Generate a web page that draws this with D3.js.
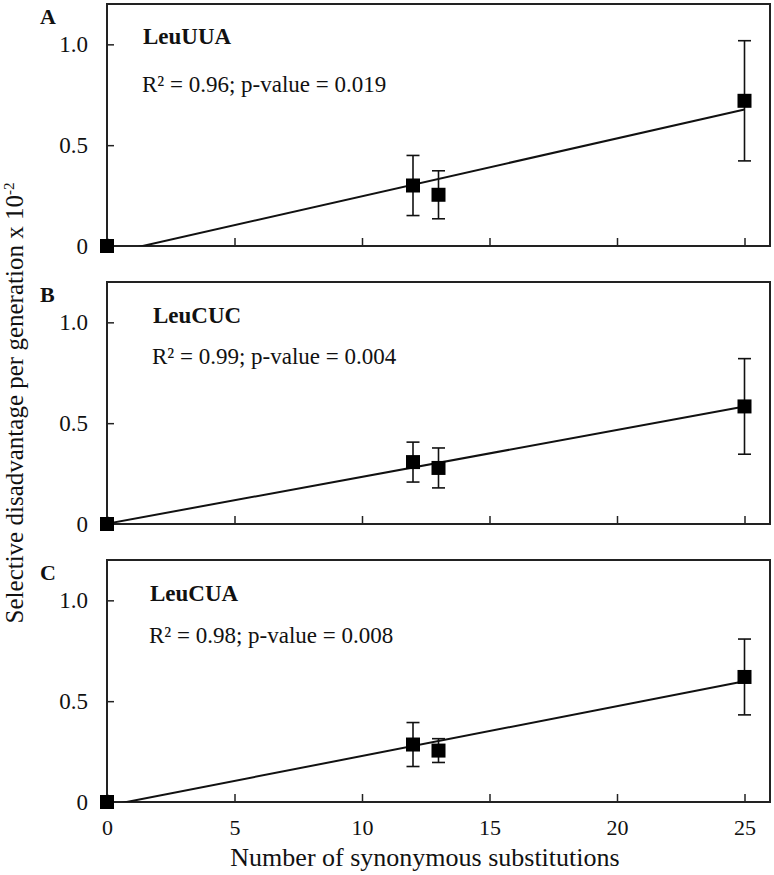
<!DOCTYPE html>
<html>
<head>
<meta charset="utf-8">
<script src="https://cdn.jsdelivr.net/npm/d3@7"></script>
<style>
  html, body { margin: 0; padding: 0; background: #fff; }
  svg { display: block; font-family: "Liberation Serif", "Times New Roman", serif; }
</style>
</head>
<body>
<svg id="chart" width="774" height="875"></svg>
<script>
// ---- data ----
const xValues = [0, 12, 13, 25];
const panelLetters = ["A", "B", "C"];
const tRNANames = ["LeuUUA", "LeuCUC", "LeuCUA"];
const statTexts = ["R\u00B2 = 0.96; p-value = 0.019", "R\u00B2 = 0.99; p-value = 0.004", "R\u00B2 = 0.98; p-value = 0.008"];
const meanA = [0, 0.30, 0.254, 0.72];
const errA  = [0, 0.149, 0.119, 0.298];
const meanB = [0, 0.307, 0.278, 0.583];
const errB  = [0, 0.099, 0.099, 0.237];
const meanC = [0, 0.285, 0.255, 0.62];
const errC  = [0, 0.109, 0.059, 0.188];
const xTicks = [0, 5, 10, 15, 20, 25];
const yTicks = [0, 0.5, 1.0];
const yTickLabels = ["0", "0.5", "1.0"];
const xTitle = "Number of synonymous substitutions";
const yTitle = "Selective disadvantage per generation x 10";
const yTitleSup = "-2";

const means = [meanA, meanB, meanC];
const errs = [errA, errB, errC];

// ---- layout ----
const svg = d3.select("#chart");
const left = 107, right = 770;
const panelTops = [4, 282, 560];
const panelH = 242;
const nameOffsets = [[36, 40], [46, 41], [43, 41]];
const statOffsets = [[35, 88], [45, 82], [42, 83]];

const x = d3.scaleLinear().domain([0, 26]).range([left, right]);

function fit(xs, ys) {
  const mx = d3.mean(xs), my = d3.mean(ys);
  let sxy = 0, sxx = 0;
  xs.forEach((v, i) => { sxy += (v - mx) * (ys[i] - my); sxx += (v - mx) * (v - mx); });
  const b = sxy / sxx;
  return { slope: b, intercept: my - b * mx };
}

panelLetters.forEach((letter, p) => {
  const top = panelTops[p];
  const y = d3.scaleLinear().domain([0, 1.2]).range([top + panelH, top]);
  const g = svg.append("g");

  const clipId = "clip" + p;
  svg.append("clipPath").attr("id", clipId)
    .append("rect").attr("x", left).attr("y", top).attr("width", right - left).attr("height", panelH);

  // axes (ticks inward)
  const yAxis = d3.axisLeft(y).tickValues(yTicks).tickSize(-7).tickPadding(19)
    .tickFormat((d, i) => yTickLabels[i]);
  const yg = g.append("g").attr("transform", `translate(${left},0)`).call(yAxis);
  yg.select(".domain").remove();
  yg.selectAll("line").attr("stroke", "#222").attr("stroke-width", 1.5);
  yg.selectAll("text").attr("font-size", 23).attr("font-family", "Liberation Serif").attr("fill", "#111");

  const xAxis = d3.axisBottom(x).tickValues(xTicks).tickSize(-8)
    .tickFormat(p === 2 ? d3.format("d") : () => "").tickPadding(17);
  const xg = g.append("g").attr("transform", `translate(0,${top + panelH})`).call(xAxis);
  xg.select(".domain").remove();
  xg.selectAll("line").attr("stroke", "#222").attr("stroke-width", 1.5);
  xg.selectAll("text").attr("font-size", 22).attr("font-family", "Liberation Serif").attr("fill", "#111");

  // frame
  g.append("rect").attr("x", left).attr("y", top).attr("width", right - left).attr("height", panelH)
    .attr("fill", "none").attr("stroke", "#222").attr("stroke-width", 2);

  // panel letter
  g.append("text").attr("x", 40).attr("y", top + 20).text(letter)
    .attr("font-size", 22).attr("font-weight", "bold").attr("fill", "#111");

  // names
  g.append("text").attr("x", left + nameOffsets[p][0]).attr("y", top + nameOffsets[p][1])
    .text(tRNANames[p]).attr("font-size", 23).attr("font-weight", "bold").attr("fill", "#111");
  g.append("text").attr("x", left + statOffsets[p][0]).attr("y", top + statOffsets[p][1])
    .text(statTexts[p]).attr("font-size", 23).attr("fill", "#111");

  // regression line
  const f = fit(xValues, means[p]);
  const x0 = d3.min(xValues), x1 = d3.max(xValues);
  g.append("line").attr("clip-path", `url(#${clipId})`)
    .attr("x1", x(x0)).attr("y1", y(f.intercept + f.slope * x0))
    .attr("x2", x(x1)).attr("y2", y(f.intercept + f.slope * x1))
    .attr("stroke", "#111").attr("stroke-width", 2);

  // error bars
  const data = xValues.map((xv, i) => ({ x: xv, m: means[p][i], e: errs[p][i] }));
  const eb = g.selectAll(".eb").data(data.filter(d => d.e > 0)).enter().append("g");
  eb.append("line").attr("x1", d => x(d.x)).attr("x2", d => x(d.x))
    .attr("y1", d => y(d.m + d.e)).attr("y2", d => y(d.m - d.e))
    .attr("stroke", "#111").attr("stroke-width", 1.6);
  [1, -1].forEach(s => {
    eb.append("line").attr("x1", d => x(d.x) - 6.5).attr("x2", d => x(d.x) + 6.5)
      .attr("y1", d => y(d.m + s * d.e)).attr("y2", d => y(d.m + s * d.e))
      .attr("stroke", "#111").attr("stroke-width", 1.6);
  });

  // squares
  const sz = 14;
  g.selectAll(".pt").data(data).enter().append("rect")
    .attr("x", d => x(d.x) - sz / 2).attr("y", d => y(d.m) - sz / 2)
    .attr("width", sz).attr("height", sz).attr("fill", "#000");
});

// axis titles
svg.append("text").attr("x", 425).attr("y", 866).attr("text-anchor", "middle")
  .attr("font-size", 26).attr("fill", "#111").text(xTitle);

const yt = svg.append("text").attr("transform", "translate(23,403) rotate(-90)")
  .attr("text-anchor", "middle").attr("font-size", 25).attr("fill", "#111");
yt.append("tspan").text(yTitle);
yt.append("tspan").attr("dy", -9).attr("font-size", 15).text(yTitleSup);
</script>
</body>
</html>
